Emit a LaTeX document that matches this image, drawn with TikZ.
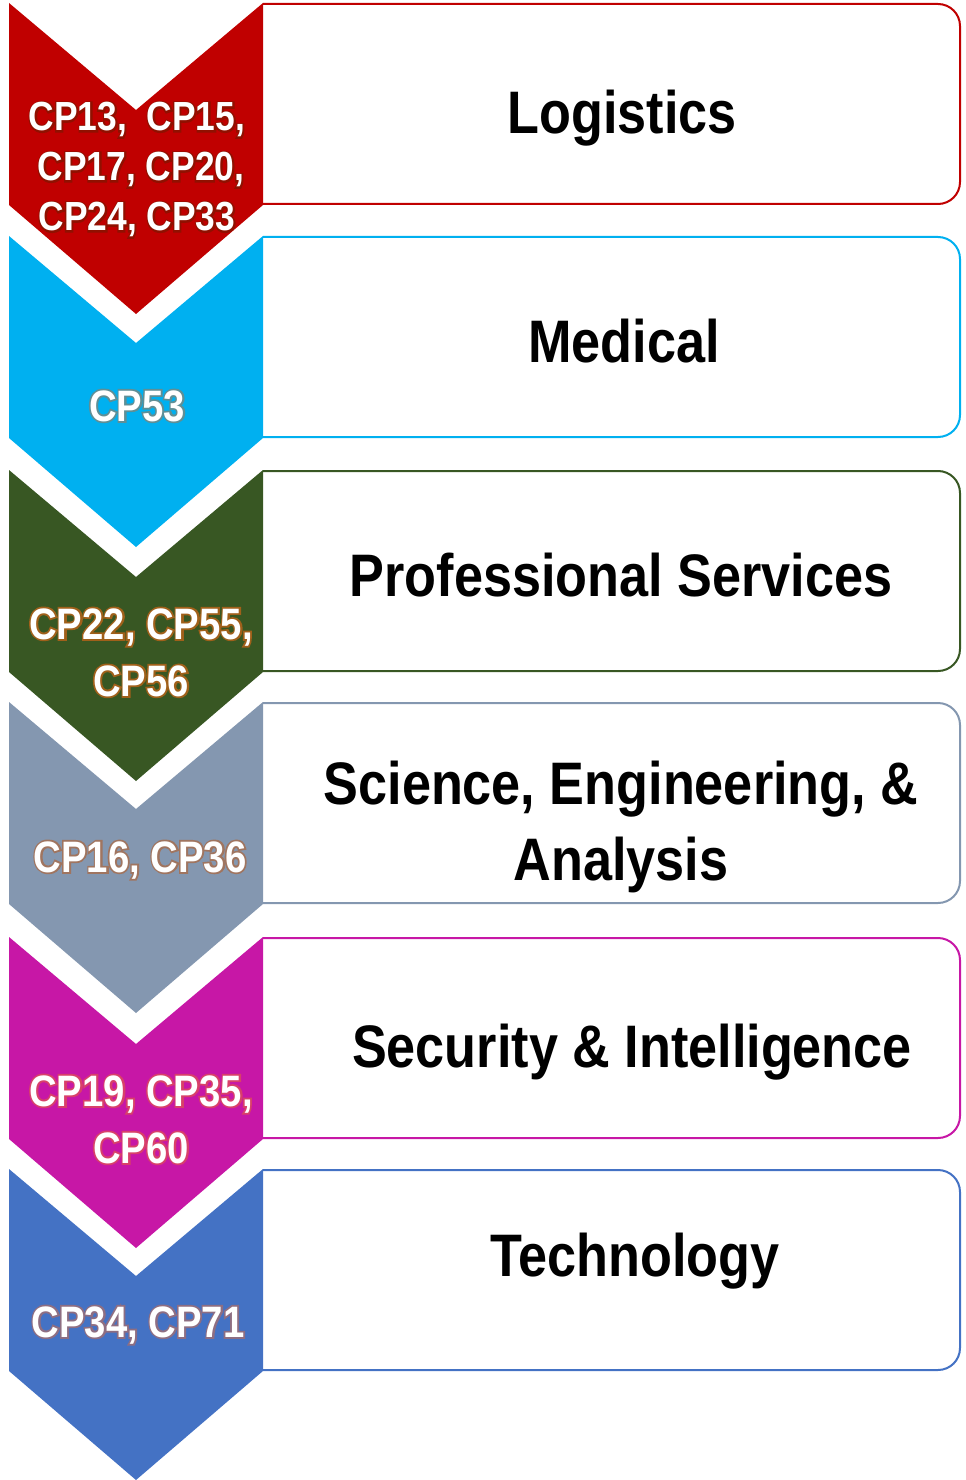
\documentclass[tikz,border=0pt]{standalone}
\usepackage{fontspec}
\setmainfont{Liberation Sans}
\newfontfamily\nf[FakeStretch=0.87]{Liberation Sans}
\newfontfamily\nfb[FakeStretch=0.87,FakeBold=8]{Liberation Sans}
\definecolor{c1}{HTML}{C00000}
\definecolor{c2}{HTML}{00B0F0}
\definecolor{c3}{HTML}{385723}
\definecolor{c4}{HTML}{8497B0}
\definecolor{c5}{HTML}{C717A6}
\definecolor{c6}{HTML}{4472C4}
\definecolor{k1}{HTML}{901000}
\definecolor{k2}{HTML}{5F8F96}
\definecolor{k3}{HTML}{A0601A}
\definecolor{k4}{HTML}{A07560}
\definecolor{k5}{HTML}{D8406A}
\definecolor{k6}{HTML}{8E6E82}
\newcommand{\chev}[2]{%
  \fill[#1] (9,#2) -- (136,#2+107) -- (263,#2) -- (263,#2+202) -- (136,#2+311) -- (9,#2+202) -- cycle;}
\newcommand{\card}[2]{%
  \draw[cardline,#1] (263,#2+1) -- (960,#2+1) -- (960,#2+201) -- (263,#2+201);}
\newcommand{\olab}[2]{\makebox[0pt][l]{\color{#1}\nfb\bfseries #2}#2}
\begin{document}
\begin{tikzpicture}[x=0.75pt,y=-0.75pt,
  cardline/.style={line width=1.5pt,rounded corners=16.5pt},
  title/.style={anchor=base,inner sep=0pt,text=black,font=\nf\bfseries\fontsize{45}{54}\selectfont},
  lab/.style={anchor=base,inner sep=0pt,text=white,font=\nf\bfseries\fontsize{33}{40}\selectfont},
  labsmall/.style={lab,font=\nf\bfseries\fontsize{30.5}{37}\selectfont}]
\useasboundingbox (0,0) rectangle (966,1480);
% cards
\card{c1}{3}
\card{c2}{236}
\card{c3}{470}
\card{c4}{702}
\card{c5}{937}
\card{c6}{1169}
% chevrons
\chev{c1}{3}
\chev{c2}{236}
\chev{c3}{470}
\chev{c4}{702}
\chev{c5}{937}
\chev{c6}{1169}
% titles
\node[title] (t1) at (622,134) {Logistics};
\node[title] (t2) at (624,362) {Medical};
\node[title] (t3) at (621,596) {Professional Services};
\node[title] (t4a) at (621,804) {Science, Engineering, \&};
\node[title] (t4b) at (621,880) {Analysis};
\node[title] (t5) at (632,1067) {Security \& Intelligence};
\node[title] (t6) at (635,1276) {Technology};
% labels
\node[labsmall] (l1a) at (137,131) {\olab{k1}{CP13,\ \ CP15,}};
\node[labsmall] (l1b) at (141,181) {\olab{k1}{CP17, CP20,}};
\node[labsmall] (l1c) at (137,231) {\olab{k1}{CP24, CP33}};
\node[lab] (l2) at (137,421) {\olab{k2}{CP53}};
\node[lab] (l3a) at (141,639) {\olab{k3}{CP22, CP55,}};
\node[lab] (l3b) at (141,696) {\olab{k3}{CP56}};
\node[lab] (l4) at (140,872) {\olab{k4}{CP16, CP36}};
\node[lab] (l5a) at (141,1106) {\olab{k5}{CP19, CP35,}};
\node[lab] (l5b) at (141,1163) {\olab{k5}{CP60}};
\node[lab] (l6) at (138,1337) {\olab{k6}{CP34, CP71}};
\end{tikzpicture}
\end{document}
